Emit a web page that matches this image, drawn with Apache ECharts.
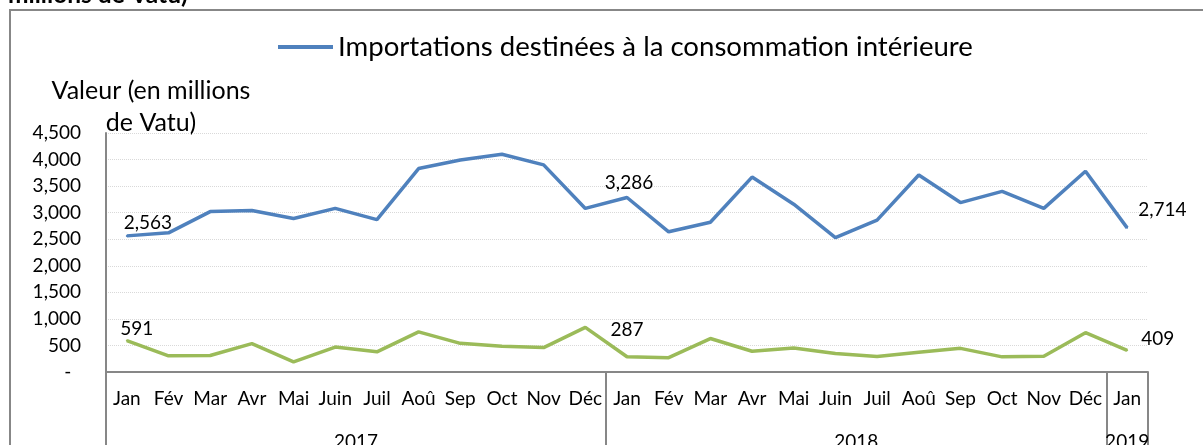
<!DOCTYPE html>
<html>
<head>
<meta charset="utf-8">
<script src="https://cdn.jsdelivr.net/npm/echarts@6/dist/echarts.min.js"></script>
<style>
  html, body { margin: 0; padding: 0; background: #fff; }
  #chart { width: 1203px; height: 445px; }
</style>
</head>
<body>
<div id="chart"></div>
<script>
// mois affichés sur l'axe, années sous les mois
const months = ['Jan', 'Fév', 'Mar', 'Avr', 'Mai', 'Juin', 'Juil', 'Aoû', 'Sep', 'Oct', 'Nov', 'Déc',
  'Jan', 'Fév', 'Mar', 'Avr', 'Mai', 'Juin', 'Juil', 'Aoû', 'Sep', 'Oct', 'Nov', 'Déc', 'Jan']
const yearLabels = ['2017', '2018', '2019']
const yearCenters = [6, 18, 24.5]
const yearBounds = [0, 12, 24, 25]

const importsName = 'Importations destinées à la consommation intérieure'
const importsValues = [2563, 2620, 3020, 3040, 2890, 3080, 2870, 3830, 3990, 4100, 3900, 3080,
  3286, 2640, 2820, 3670, 3160, 2530, 2860, 3710, 3190, 3400, 3080, 3780, 2714]
const otherValues = [591, 305, 310, 535, 190, 470, 380, 755, 540, 485, 460, 840,
  287, 270, 630, 390, 450, 350, 290, 370, 445, 285, 295, 740, 409]

const FONT = 'Lato'
const fmt = (v) => v.toLocaleString('en-US')

// étiquettes seulement sur Jan 2017, Jan 2018 et Jan 2019
function withLabels(values, labelSpecs) {
  return values.map((v, i) => {
    const spec = labelSpecs[i]
    if (!spec) return v
    return {
      value: v,
      symbolSize: 2,
      label: { show: true, position: spec.position, offset: spec.offset }
    }
  })
}

const chart = echarts.init(document.getElementById('chart'))

chart.setOption({
  animation: false,
  backgroundColor: '#fff',
  textStyle: { fontFamily: FONT },
  graphic: [
    {
      type: 'rect',
      shape: { x: 10, y: 10, width: 1300, height: 500 },
      style: { fill: 'none', stroke: '#878787', lineWidth: 2 }
    },
    {
      type: 'text',
      x: 8,
      y: 8,
      style: {
        text: 'millions de Vatu)',
        fontFamily: FONT,
        fontWeight: 'bold',
        fontSize: 24.5,
        fill: '#000',
        verticalAlign: 'bottom'
      }
    },
    {
      type: 'text',
      x: 151,
      y: 107,
      style: {
        text: 'Valeur (en millions\nde Vatu)',
        fontFamily: FONT,
        fontSize: 25,
        lineHeight: 32,
        fill: '#000',
        align: 'center',
        verticalAlign: 'middle'
      }
    }
  ],
  legend: {
    data: [importsName],
    left: 278,
    top: 33,
    padding: 0,
    icon: 'rect',
    itemWidth: 55,
    itemHeight: 4,
    textStyle: { fontFamily: FONT, fontSize: 27.6, color: '#000' }
  },
  grid: {
    left: 106,
    right: 55,
    top: 133,
    bottom: 73,
    outerBoundsMode: 'none'
  },
  xAxis: [
    {
      type: 'category',
      data: months,
      boundaryGap: true,
      position: 'bottom',
      axisLine: { lineStyle: { color: '#878787', width: 2 } },
      axisTick: { show: false },
      axisLabel: { interval: 0, color: '#000', fontSize: 19, margin: 17 }
    },
    {
      type: 'value',
      min: 0,
      max: 25,
      position: 'bottom',
      axisLine: { show: false },
      splitLine: { show: false },
      axisTick: {
        show: true,
        customValues: yearBounds,
        length: 80,
        lineStyle: { color: '#878787', width: 2 }
      },
      axisLabel: {
        customValues: yearCenters,
        color: '#000',
        fontSize: 19,
        margin: 60,
        formatter: (v) => yearLabels[yearCenters.indexOf(v)]
      }
    }
  ],
  yAxis: {
    type: 'value',
    min: 0,
    max: 4500,
    interval: 500,
    axisLine: { show: true, lineStyle: { color: '#878787', width: 2 } },
    axisTick: { show: false },
    splitLine: { lineStyle: { color: '#d9d9d9', type: 'dotted', width: 1 } },
    axisLabel: {
      color: '#000',
      fontSize: 19,
      margin: 25,
      formatter: (v) => (v === 0 ? '-  ' : fmt(v))
    }
  },
  series: [
    {
      name: importsName,
      type: 'line',
      data: withLabels(importsValues, {
        0: { position: 'top', offset: [21, 2] },
        12: { position: 'top', offset: [2, 1] },
        24: { position: 'right', offset: [5, -18] }
      }),
      symbol: 'circle',
      symbolSize: 0,
      lineStyle: { color: '#4f81bd', width: 3.5 },
      itemStyle: { color: '#4f81bd' },
      label: { color: '#000', fontSize: 19, formatter: (p) => fmt(p.value) }
    },
    {
      name: 'série 2',
      type: 'line',
      data: withLabels(otherValues, {
        0: { position: 'top', offset: [10, 4] },
        12: { position: 'top', offset: [0, -11] },
        24: { position: 'right', offset: [8, -11] }
      }),
      symbol: 'circle',
      symbolSize: 0,
      lineStyle: { color: '#9bbb59', width: 3.5 },
      itemStyle: { color: '#9bbb59' },
      label: { color: '#000', fontSize: 19, formatter: (p) => fmt(p.value) }
    }
  ]
})
</script>
</body>
</html>
